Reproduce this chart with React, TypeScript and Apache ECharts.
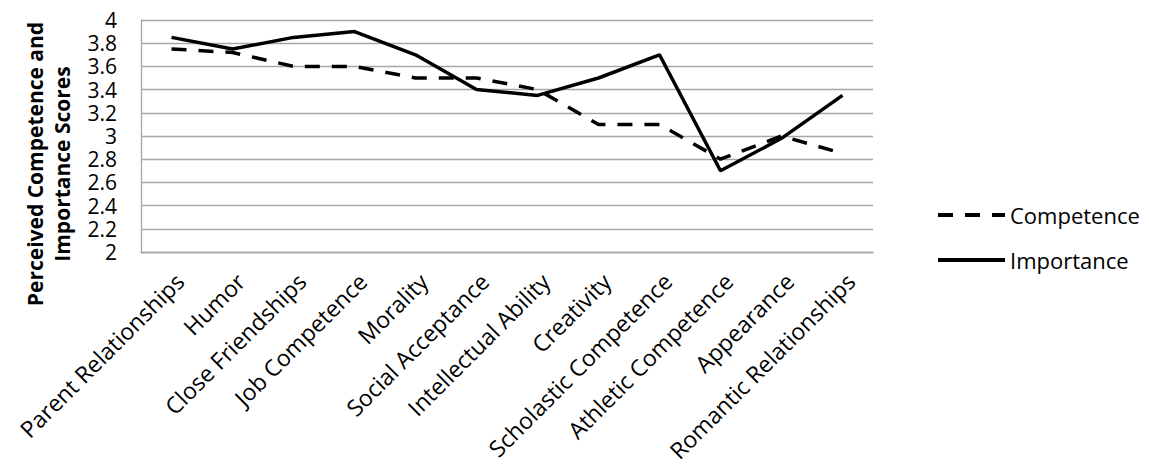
import React, { useEffect, useRef } from "react";
import * as echarts from "echarts";

const categories = [
  "Parent Relationships",
  "Humor",
  "Close Friendships",
  "Job Competence",
  "Morality",
  "Social Acceptance",
  "Intellectual Ability",
  "Creativity",
  "Scholastic Competence",
  "Athletic Competence",
  "Appearance",
  "Romantic Relationships",
];

const competence = [3.75, 3.72, 3.6, 3.6, 3.5, 3.5, 3.4, 3.1, 3.1, 2.8, 3.0, 2.85];
const importance = [3.85, 3.75, 3.85, 3.9, 3.7, 3.4, 3.35, 3.5, 3.7, 2.7, 2.98, 3.35];

const yMin = 2;
const yMax = 4;
const yStep = 0.2;

const FONT = "'Open Sans', 'Noto Sans', sans-serif";

export default function App() {
  const ref = useRef<HTMLDivElement>(null);

  useEffect(() => {
    if (!ref.current) return;
    const chart = echarts.init(ref.current, undefined, { renderer: "svg" });
    chart.setOption({
      animation: false,
      backgroundColor: "#ffffff",
      grid: { left: 141, right: 276, top: 20, bottom: 219, containLabel: false },
      legend: {
        orient: "vertical",
        left: 931,
        top: 198,
        itemWidth: 67,
        itemHeight: 30,
        itemGap: 21,
        itemStyle: { opacity: 0 },
        lineStyle: { width: 4 },
        textStyle: { fontFamily: FONT, fontSize: 22, color: "#000" },
        data: ["Competence", "Importance"],
      },
      graphic: [
        {
          type: "text",
          x: 48,
          y: 164,
          rotation: Math.PI / 2,
          style: {
            text: "Perceived Competence and\nImportance Scores",
            font: `bold 21px ${FONT}`,
            fill: "#000",
            align: "center",
            verticalAlign: "middle",
            lineHeight: 27,
          },
        },
      ],
      xAxis: {
        type: "category",
        data: categories,
        boundaryGap: true,
        axisLine: { show: true, lineStyle: { color: "#a6a6a6", width: 1.3 } },
        axisTick: { show: false },
        axisLabel: {
          interval: 0,
          rotate: 45,
          margin: 17,
          verticalAlign: "top",
          fontFamily: FONT,
          fontSize: 23,
          color: "#000",
        },
      },
      yAxis: {
        type: "value",
        min: yMin,
        max: yMax,
        interval: yStep,
        axisLine: { show: true, lineStyle: { color: "#a6a6a6", width: 1.3 } },
        axisTick: { show: false },
        splitLine: { show: true, lineStyle: { color: "#a6a6a6", width: 1.3 } },
        axisLabel: {
          margin: 24,
          fontFamily: FONT,
          fontSize: 21,
          lineHeight: 21,
          color: "#000",
          formatter: (v: number) => String(+v.toFixed(1)),
        },
      },
      series: [
        {
          name: "Competence",
          type: "line",
          data: competence,
          symbol: "none",
          lineStyle: { color: "#000", width: 3.5, type: [15, 12] },
          itemStyle: { color: "#000" },
        },
        {
          name: "Importance",
          type: "line",
          data: importance,
          symbol: "none",
          lineStyle: { color: "#000", width: 3.5, type: "solid" },
          itemStyle: { color: "#000" },
        },
      ],
    });
    return () => chart.dispose();
  }, []);

  return <div ref={ref} style={{ width: 1149, height: 471, position: "absolute", left: 0, top: 0 }} />;
}
